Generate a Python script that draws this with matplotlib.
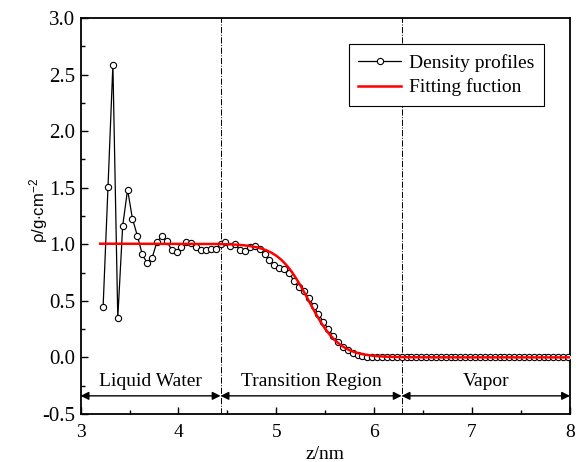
import numpy as np
import matplotlib
matplotlib.use("Agg")
import matplotlib.pyplot as plt

plt.rcParams['font.family'] = ['Liberation Serif', 'DejaVu Serif']
plt.rcParams['mathtext.fontset'] = 'custom'
plt.rcParams['mathtext.rm'] = 'Liberation Sans'
plt.rcParams['mathtext.it'] = 'Liberation Sans:italic'
plt.rcParams['axes.unicode_minus'] = False

# density profile (z in nm, rho in g/cm^3)
z_start, z_step = 3.23, 0.05
rho_liquid = [0.446, 1.507, 2.588, 0.350, 1.162, 1.483, 1.225, 1.075, 0.912, 0.832,
              0.879, 1.020, 1.073, 1.030, 0.950, 0.932, 0.975, 1.018, 1.015, 0.975,
              0.950, 0.945, 0.956, 0.956]
rho_transition = [1.003, 1.016, 0.988, 1.000, 0.950, 0.940, 0.973, 0.982, 0.958, 0.911,
                  0.858, 0.817, 0.790, 0.780, 0.746, 0.676, 0.620, 0.587, 0.528, 0.455,
                  0.381, 0.316, 0.251, 0.189, 0.136, 0.092, 0.063, 0.042, 0.024, 0.012,
                  0.006, 0.004, 0.002, 0.001]
rho_vapor = [0.001, 0.0, 0.0, 0.0, 0.0, 0.0, 0.0, 0.0, 0.0, 0.0,
             0.0, 0.0, 0.0, 0.0, 0.0, 0.0, 0.0, 0.0, 0.0, 0.0,
             0.0, 0.0, 0.0, 0.0, 0.0, 0.0, 0.0, 0.0, 0.0, 0.0,
             0.0, 0.0, 0.0, 0.0, 0.0, 0.0, 0.0, 0.0]
rho = rho_liquid + rho_transition + rho_vapor
z = z_start + z_step * np.arange(len(rho))

# fitting function
z_fit = [3.2, 4.4, 4.5, 4.6, 4.7, 4.8, 4.85, 4.9, 4.95, 5.0, 5.05, 5.1, 5.15, 5.2,
         5.25, 5.3, 5.35, 5.4, 5.45, 5.5, 5.55, 5.6, 5.65, 5.7, 5.75, 5.8, 5.85,
         5.9, 6.0, 6.1, 6.2, 6.4, 6.7, 8.0]
rho_fit = [1.005, 1.0025, 1.0003, 0.9959, 0.9881, 0.9731, 0.9615, 0.946, 0.9253,
           0.8983, 0.8633, 0.8192, 0.7655, 0.7016, 0.6293, 0.551, 0.4701, 0.3909,
           0.3172, 0.2517, 0.1957, 0.1498, 0.1133, 0.0848, 0.0627, 0.0461, 0.034,
           0.0248, 0.0132, 0.0069, 0.0037, 0.001, 0.0003, 0.0]

boundaries = [4.43, 6.28]
regions = ["Liquid Water", "Transition Region", "Vapor"]

fig = plt.figure(figsize=(5.84, 4.62), dpi=100)
ax = fig.add_axes([0.138, 0.104, 0.838, 0.857])

ax.plot(z, rho, '-o', color='black', lw=0.9, ms=4.5, mfc='white', mec='black',
        mew=0.8, label='Density profiles', zorder=3)
ax.plot(z_fit, rho_fit, '-', color='red', lw=1.8, label='Fitting fuction', zorder=4)

for b in boundaries:
    ax.axvline(b, color='black', lw=0.7, ls='-.', zorder=1)

edges = [3.0] + boundaries + [8.0]
for i, name in enumerate(regions):
    ax.annotate('', xy=(edges[i], -0.34), xytext=(edges[i + 1], -0.34),
                arrowprops=dict(arrowstyle='<|-|>', color='black', lw=1.0,
                                mutation_scale=12, shrinkA=0, shrinkB=0))
    ax.text((edges[i] + edges[i + 1]) / 2, -0.21, name, ha='center', va='center',
            fontsize=14)

ax.set_xlim(3, 8)
ax.set_ylim(-0.5, 3.0)
ax.set_xticks(np.arange(3, 8.1, 1))
ax.set_xticks(np.arange(3.5, 8, 1), minor=True)
ax.set_yticks(np.arange(-0.5, 3.01, 0.5))
ax.set_yticks(np.arange(-0.25, 3.0, 0.5), minor=True)
ax.tick_params(which='both', direction='in', top=False, right=False, width=1.0)
ax.tick_params(axis='x', pad=7, labelsize=14)
ax.tick_params(axis='y', pad=4, labelsize=15)
ax.tick_params(which='major', length=5)
ax.tick_params(which='minor', length=3)
for s in ax.spines.values():
    s.set_linewidth(1.3)

ax.set_xlabel('z/nm', fontsize=14, labelpad=4)
ax.set_ylabel(r'$\mathrm{\rho/g{\cdot}cm^{-2}}$', fontsize=12)
ax.yaxis.set_label_coords(-0.062, 0.513)

leg = ax.legend(loc='upper right', bbox_to_anchor=(0.947, 0.934), borderaxespad=0,
                fontsize=14, frameon=True, fancybox=False, edgecolor='black',
                framealpha=1, handlelength=2.2, borderpad=0.5, labelspacing=0.35,
                handletextpad=0.4)
leg.get_frame().set_linewidth(0.8)

fig.savefig('out.png', dpi=100)
